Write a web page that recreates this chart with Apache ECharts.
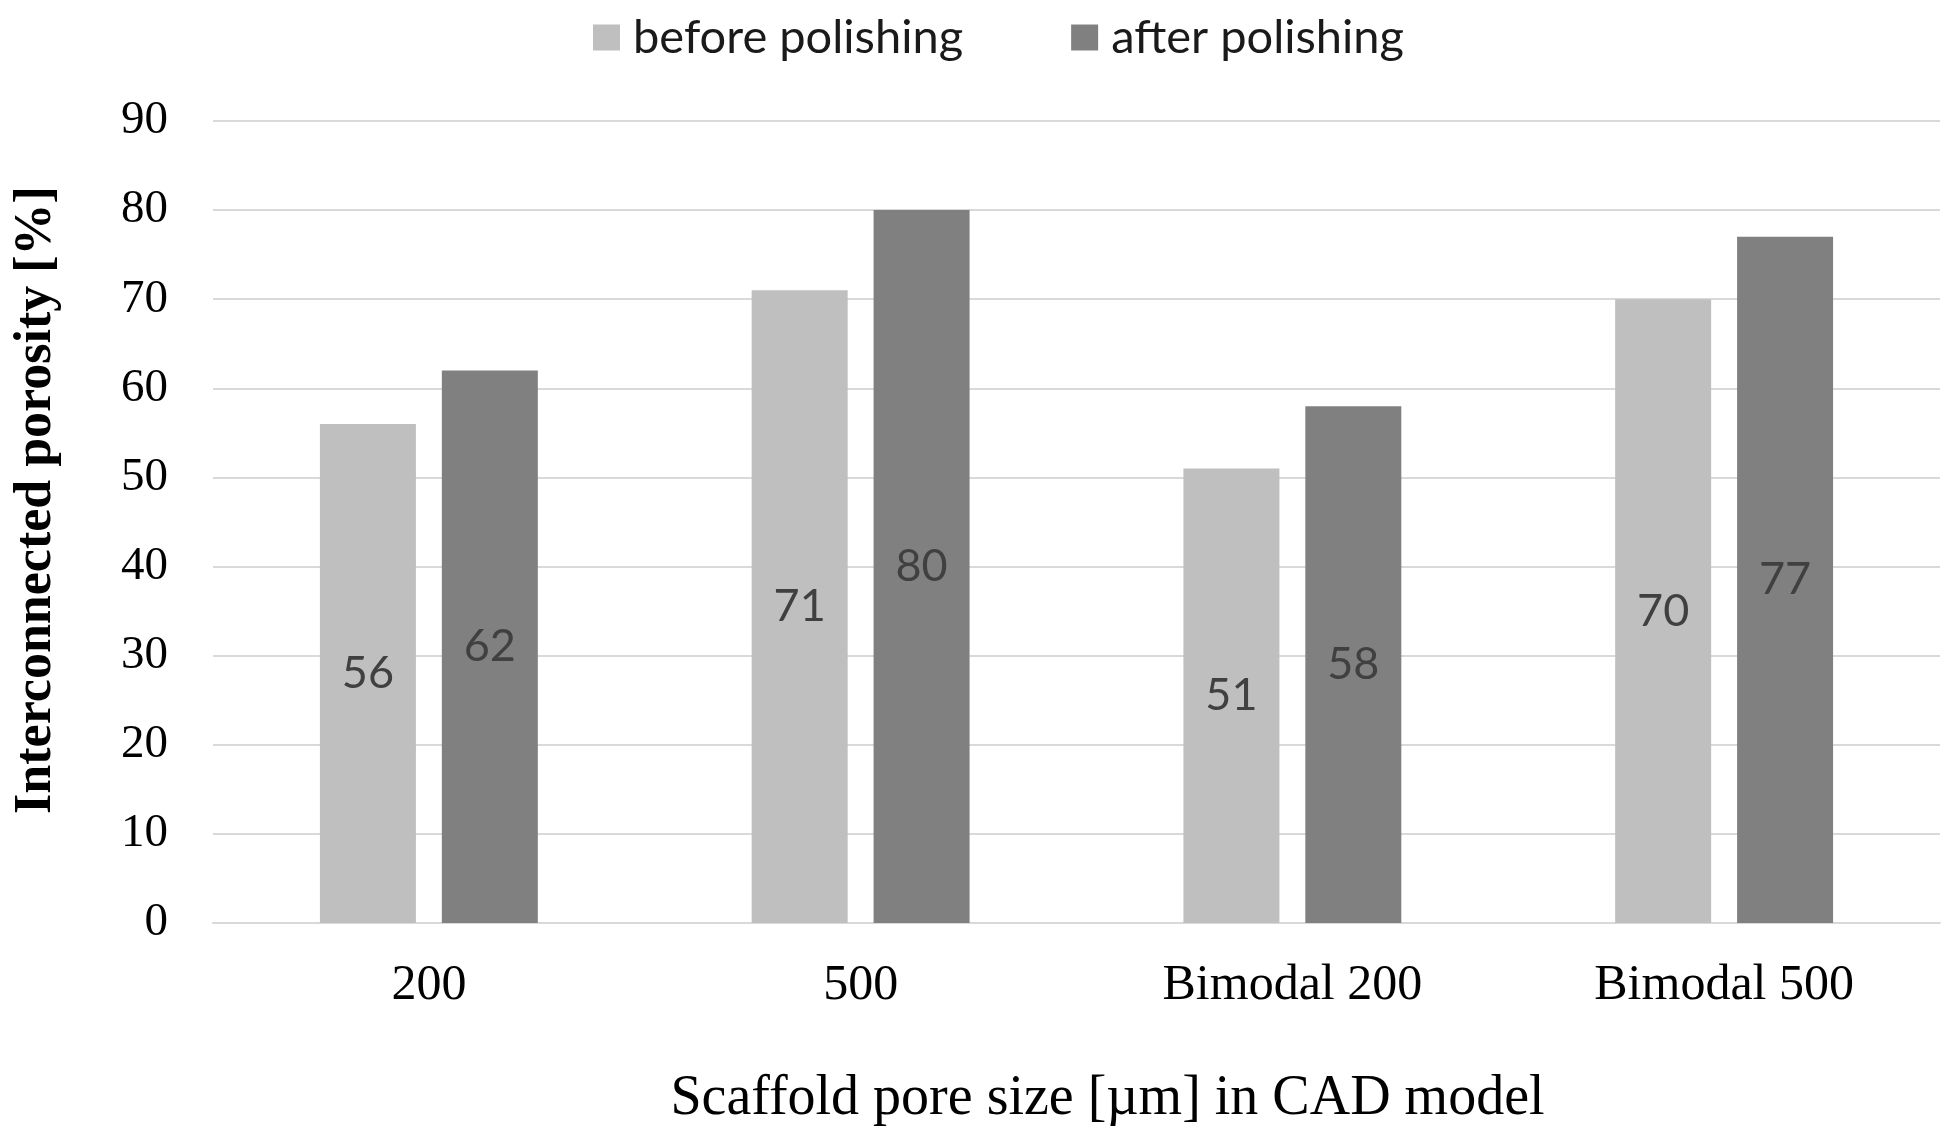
<!DOCTYPE html>
<html>
<head>
<meta charset="utf-8">
<script src="https://cdn.jsdelivr.net/npm/echarts@6/dist/echarts.min.js"></script>
<style>
  html, body { margin: 0; padding: 0; background: #fff; }
  #main { width: 1956px; height: 1141px; }
</style>
</head>
<body>
<div id="main"></div>
<script>
var myChart = echarts.init(document.getElementById('main'));

var categories = ['200', '500', 'Bimodal 200', 'Bimodal 500'];
var seriesNames = ['before polishing', 'after polishing'];
var beforePolishing = [56, 71, 51, 70];
var afterPolishing = [62, 80, 58, 77];

var serif = '"Liberation Serif", "Times New Roman", serif';
var sans = 'Lato, "Open Sans", sans-serif';

var labelStyle = {
    show: true,
    position: 'inside',
    fontFamily: sans,
    fontSize: 45,
    color: '#404040'
};

option = {
    backgroundColor: '#fff',
    animation: false,
    legend: {
        top: 9,
        left: 588,
        itemWidth: 27,
        itemHeight: 26,
        itemGap: 108,
        icon: 'rect',
        textStyle: {
            fontFamily: sans,
            fontSize: 47,
            color: '#1a1a1a',
            padding: [0, 0, 0, 8]
        },
        data: seriesNames
    },
    grid: {
        left: 213,
        right: 16,
        top: 121,
        bottom: 218
    },
    xAxis: {
        type: 'category',
        data: categories,
        name: 'Scaffold pore size [µm] in CAD model',
        nameLocation: 'middle',
        nameGap: 148,
        nameTextStyle: {
            fontFamily: serif,
            fontSize: 56,
            color: '#000',
            padding: [0, 0, 0, 62]
        },
        axisLine: { show: true, lineStyle: { color: '#d9d9d9', width: 2 } },
        axisTick: { show: false },   // 不显示刻度
        axisLabel: {
            margin: 38,
            fontFamily: serif,
            fontSize: 50,
            color: '#000'
        }
    },
    yAxis: {
        type: 'value',
        min: 0,
        max: 90,
        interval: 10,
        name: 'Interconnected porosity [%]',
        nameLocation: 'middle',
        nameGap: 150,
        nameTextStyle: {
            fontFamily: serif,
            fontSize: 52,
            fontWeight: 'bold',
            color: '#000',
            padding: [0, 0, 0, 44]
        },
        axisLine: { show: false },
        axisTick: { show: false },
        axisLabel: {
            margin: 45,
            fontFamily: serif,
            fontSize: 47,
            color: '#000'
        },
        splitLine: { lineStyle: { color: '#d9d9d9', width: 2 } }
    },
    series: [
        {
            name: seriesNames[0],
            type: 'bar',
            barWidth: 96,
            barGap: '27%',
            itemStyle: { color: '#bfbfbf' },
            label: labelStyle,
            data: beforePolishing
        },
        {
            name: seriesNames[1],
            type: 'bar',
            barWidth: 96,
            barGap: '27%',
            itemStyle: { color: '#808080' },
            label: labelStyle,
            data: afterPolishing
        }
    ]
};

myChart.setOption(option);
</script>
</body>
</html>
